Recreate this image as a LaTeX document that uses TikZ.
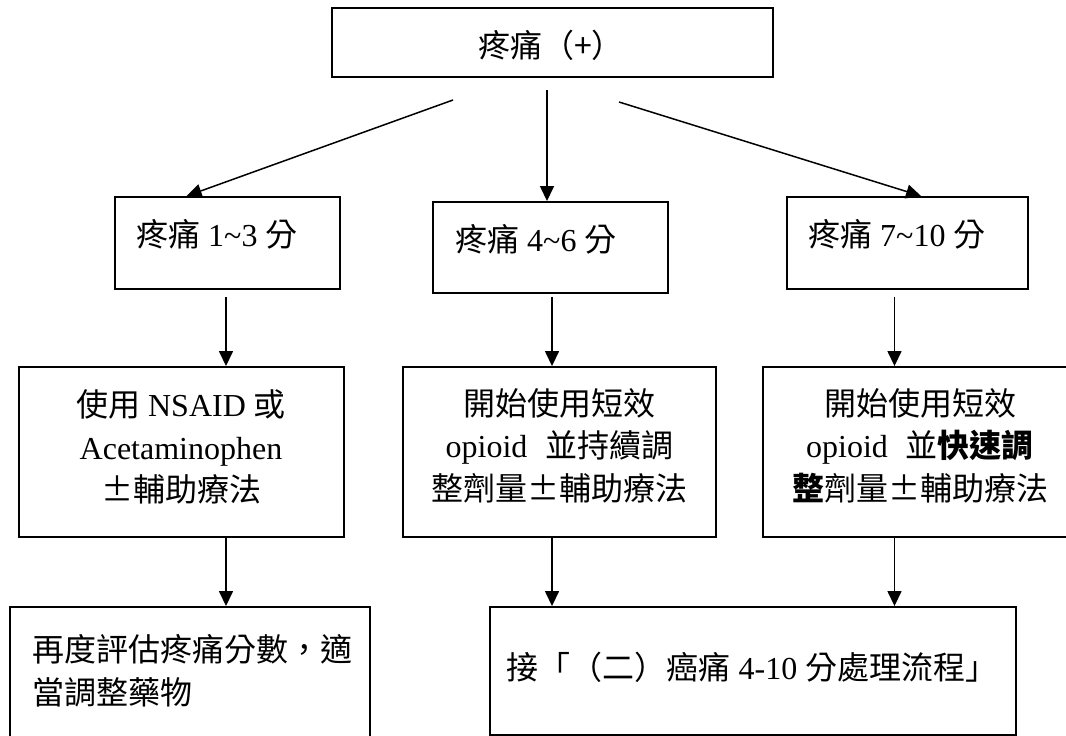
\documentclass[tikz,border=0pt]{standalone}
\usepackage{fontspec}
\setmainfont{Noto Sans CJK TC}
\newfontfamily\latfont{Liberation Serif}
\newcommand\latn[1]{{\latfont #1}}
\usetikzlibrary{arrows.meta,calc}
\begin{document}
\begin{tikzpicture}[x=1pt,y=-1pt,
  box/.style={draw,line width=1.9pt,inner sep=0pt},
  arr/.style={line width=1.5pt,-{Triangle[width=14pt,length=15pt]}},
  txt/.style={inner sep=0pt,font=\fontsize{32}{42.5}\selectfont}]
\useasboundingbox (0,0) rectangle (1066,736);
\clip (0,0) rectangle (1066,736);
% boxes
\node[box,minimum width=441pt,minimum height=69pt] (top) at (552.5,42.5) {};
\node[box,minimum width=225pt,minimum height=92pt] (b1) at (227.5,243) {};
\node[box,minimum width=235pt,minimum height=91pt] (b2) at (550.5,247.5) {};
\node[box,minimum width=241pt,minimum height=92pt] (b3) at (907.5,243) {};
\node[box,minimum width=325pt,minimum height=170pt] (m1) at (181.5,452) {};
\node[box,minimum width=313pt,minimum height=170pt] (m2) at (559.5,452) {};
\node[box,minimum width=314pt,minimum height=170pt] (m3) at (920,452) {};
\node[box,minimum width=360pt,minimum height=160pt] (c1) at (190,687) {};
\node[box,minimum width=526pt,minimum height=128pt] (c2) at (753,671) {};
% texts
\node[txt] (ttop) at (551,45) {疼痛（+）};
\node[txt,anchor=west] (tb1) at (136,234) {疼痛\latn{ 1\textasciitilde3 }分};
\node[txt,anchor=west] (tb2) at (455,239) {疼痛\latn{ 4\textasciitilde6 }分};
\node[txt,anchor=west] (tb3) at (808,234) {疼痛\latn{ 7\textasciitilde10 }分};
\node[txt,align=center] (tm1) at (181,447) {使用\latn{ NSAID }或\\\latn{Acetaminophen}\\±輔助療法};
\node[txt,align=center] (tm2) at (559.5,445.5) {開始使用短效\\\latn{opioid}\hspace{18pt}並持續調\\整劑量±輔助療法};
\node[txt,align=center] (tm3) at (920,445.5) {開始使用短效\\\latn{opioid}\hspace{18pt}並\textbf{快速調}\\\textbf{整}劑量±輔助療法};
\node[txt,align=left,anchor=west] (tc1) at (32,671) {再度評估疼痛分數，適\\當調整藥物};
\node[txt] (tc2) at (752,667) {接「（二）癌痛\latn{ 4-10 }分處理流程」};
% connector x positions
\coordinate (xa) at (226,0);
\coordinate (xb) at (552,0);
\coordinate (xc) at (894.5,0);
\coordinate (s1) at (453,100);
\coordinate (s3) at (619,102);
% connectors
\draw[arr] (s1) -- ($(b1.north west)!0.32!(b1.north east)$);
\draw[arr] ([xshift=-5.5pt,yshift=-12pt]top.south) -- ([xshift=-3.5pt]b2.north);
\draw[arr] (s3) -- ($(b3.north west)!0.556!(b3.north east)$);
\draw[arr] ([yshift=-7pt]b1.south -| xa) -- (m1.north -| xa);
\draw[arr] ([yshift=-3pt]b2.south -| xb) -- (m2.north -| xb);
\draw[arr] ([yshift=-7pt]b3.south -| xc) -- (m3.north -| xc);
\draw[arr] (m1.south -| xa) -- (c1.north -| xa);
\draw[arr] (m2.south -| xb) -- (c2.north -| xb);
\draw[arr] (m3.south -| xc) -- (c2.north -| xc);
\end{tikzpicture}
\end{document}
